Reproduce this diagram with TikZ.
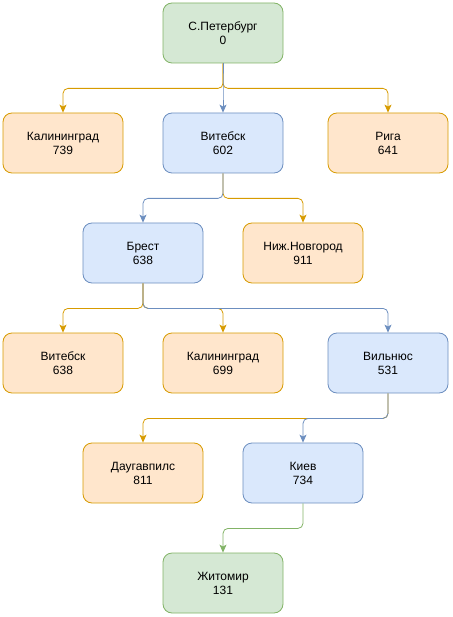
\documentclass[tikz,border=0pt]{standalone}
\usepackage{fontspec}
\setmainfont{Liberation Sans}
\usetikzlibrary{arrows.meta}
\definecolor{greenfill}{HTML}{D5E8D4}
\definecolor{greenline}{HTML}{82B366}
\definecolor{bluefill}{HTML}{DAE8FC}
\definecolor{blueline}{HTML}{6C8EBF}
\definecolor{orangefill}{HTML}{FFE6CC}
\definecolor{orangeline}{HTML}{D79B00}

\begin{document}
\begin{tikzpicture}[x=1pt,y=-1pt]
	\tikzstyle{city}=[rectangle,rounded corners=9pt,minimum width=120pt,minimum height=60pt,inner sep=0pt,align=center,font=\fontsize{12}{14}\selectfont,line width=0.8pt]
	\tikzstyle{green city}=[city, fill=greenfill, draw=greenline];
	\tikzstyle{blue city}=[city, fill=bluefill, draw=blueline];
	\tikzstyle{orange city}=[city, fill=orangefill, draw=orangeline];
	\tikzstyle{link}=[rounded corners=5pt,line width=0.8pt,-{Stealth[length=8pt,width=7pt,inset=2pt]}]
	\tikzstyle{green link}=[link, draw=greenline];
	\tikzstyle{blue link}=[link, draw=blueline];
	\tikzstyle{orange link}=[link, draw=orangeline];

	\useasboundingbox (0,0) rectangle (452,617);

	% Root
	\node[green city] (spb) at (223,33) {С.Петербург\\0};

	% Level 1
	\node[orange city] (kal1) at (63,143) {Калининград\\739};
	\node[blue city] (vit1) at (223,143) {Витебск\\602};
	\node[orange city] (riga) at (388,143) {Рига\\641};

	% Level 2
	\node[blue city] (brest) at (143,253) {Брест\\638};
	\node[orange city] (nn) at (303,253) {Ниж.Новгород\\911};

	% Level 3
	\node[orange city] (vit2) at (63,363) {Витебск\\638};
	\node[orange city] (kal2) at (223,363) {Калининград\\699};
	\node[blue city] (vil) at (388,363) {Вильнюс\\531};

	% Level 4
	\node[orange city] (daug) at (143,473) {Даугавпилс\\811};
	\node[blue city] (kiev) at (303,473) {Киев\\734};

	% Goal
	\node[green city] (zhit) at (223,583) {Житомир\\131};

	% Connect the tree
	\foreach \source / \dest / \kind in {spb/kal1/orange, spb/riga/orange, spb/vit1/blue,
		vit1/nn/orange, vit1/brest/blue,
		brest/vit2/orange, brest/kal2/orange, brest/vil/blue,
		vil/daug/orange, vil/kiev/blue,
		kiev/zhit/green}
	\draw[\kind\space link] (\source.south) -- ++(0,25) -| (\dest.north);

\end{tikzpicture}
\end{document}
